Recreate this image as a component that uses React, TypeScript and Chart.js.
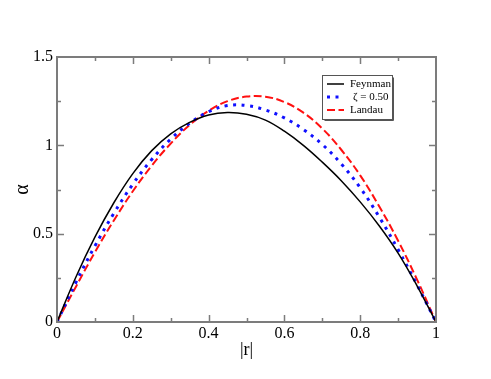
import React, { useEffect, useRef } from "react";
import { Chart, registerables } from "chart.js";

Chart.register(...registerables);

// |r| sample positions
const rValues = [0, 0.05, 0.1, 0.15, 0.2, 0.25, 0.3, 0.35, 0.4, 0.45, 0.5, 0.55, 0.6, 0.65, 0.7, 0.75, 0.8, 0.85, 0.9, 0.95, 1.0];
// alpha for each model
const feynman = [0, 0.255, 0.48, 0.675, 0.84, 0.97, 1.065, 1.13, 1.172, 1.186, 1.176, 1.143, 1.08, 1.0, 0.905, 0.8, 0.68, 0.545, 0.39, 0.205, 0];
const zeta050 = [0, 0.225, 0.43, 0.615, 0.78, 0.92, 1.035, 1.125, 1.19, 1.225, 1.225, 1.2, 1.155, 1.09, 1.005, 0.895, 0.76, 0.595, 0.41, 0.21, 0];
const landau = [0, 0.2, 0.395, 0.575, 0.74, 0.885, 1.01, 1.115, 1.195, 1.25, 1.276, 1.275, 1.245, 1.185, 1.095, 0.975, 0.83, 0.655, 0.46, 0.24, 0];

const seriesLabels = ["Feynman", "\u03b6 = 0.50", "Landau"];
const xTitle = "|r|";
const yTitle = "\u03b1";

const SERIF = "'Liberation Serif', 'Times New Roman', serif";
const FRAME = "#7c7c7c";

const frameTicksPlugin = {
  id: "frameTicks",
  afterDatasetsDraw(chart: any) {
    const { ctx, chartArea } = chart;
    const { left, right, top, bottom } = chartArea;
    const xs = chart.scales.x;
    const ys = chart.scales.y;
    ctx.save();
    ctx.strokeStyle = FRAME;
    ctx.lineWidth = 1.5;
    ctx.beginPath();
    xs.ticks.forEach((t: any) => {
      const p = Math.round(xs.getPixelForValue(t.value)) + 0.5;
      if (p <= left + 1 || p >= right - 1) return;
      const major = Math.round(t.value * 10) % 2 === 0;
      const len = major ? 7 : 4;
      ctx.moveTo(p, bottom);
      ctx.lineTo(p, bottom - len);
      ctx.moveTo(p, top);
      ctx.lineTo(p, top + len);
    });
    ys.ticks.forEach((t: any) => {
      const p = Math.round(ys.getPixelForValue(t.value)) + 0.5;
      if (p <= top + 1 || p >= bottom - 1) return;
      const major = Math.round(t.value * 4) % 2 === 0;
      const len = major ? 7 : 4;
      ctx.moveTo(left, p);
      ctx.lineTo(left + len, p);
      ctx.moveTo(right, p);
      ctx.lineTo(right - len, p);
    });
    ctx.stroke();
    ctx.lineWidth = 2;
    ctx.strokeRect(left, top, right - left, bottom - top);
    ctx.restore();
  },
};

const legendPlugin = {
  id: "boxLegend",
  afterDraw(chart: any) {
    const { ctx } = chart;
    const bx = 322.5, by = 75.5, bw = 70, bh = 44;
    ctx.save();
    ctx.fillStyle = "#ffffff";
    ctx.fillRect(bx, by, bw, bh);
    ctx.strokeStyle = "#555555";
    ctx.lineWidth = 1;
    ctx.strokeRect(bx, by, bw, bh);
    ctx.beginPath();
    ctx.moveTo(bx + bw + 1, by + 2);
    ctx.lineTo(bx + bw + 1, by + bh + 1);
    ctx.lineTo(bx + 2, by + bh + 1);
    ctx.stroke();
    ctx.font = "11px " + SERIF;
    ctx.textBaseline = "middle";
    ctx.fillStyle = "#000000";
    const rows = [84, 97, 110];
    chart.data.datasets.forEach((ds: any, i: number) => {
      const y = rows[i];
      ctx.save();
      ctx.strokeStyle = ds.borderColor;
      ctx.lineWidth = ds.borderWidth;
      ctx.setLineDash(ds.borderDash || []);
      ctx.beginPath();
      ctx.moveTo(327, y);
      ctx.lineTo(i === 1 ? 341 : 344, y);
      ctx.stroke();
      ctx.restore();
      ctx.fillText(ds.label, i === 1 ? 353 : 350, y);
    });
    ctx.restore();
  },
};

export default function App() {
  const canvasRef = useRef<HTMLCanvasElement | null>(null);

  useEffect(() => {
    document.body.style.margin = "0";
    const canvas = canvasRef.current;
    if (!canvas) return;
    const mk = (vals: number[]) => rValues.map((x, i) => ({ x, y: vals[i] }));
    const chart = new Chart(canvas, {
      type: "line",
      data: {
        datasets: [
          {
            label: seriesLabels[0],
            data: mk(feynman),
            borderColor: "#000000",
            borderWidth: 1.5,
            pointRadius: 0,
            tension: 0.4,
            fill: false,
          },
          {
            label: seriesLabels[1],
            data: mk(zeta050),
            borderColor: "#1010ff",
            borderWidth: 3,
            borderDash: [3, 5.5],
            pointRadius: 0,
            tension: 0.4,
            fill: false,
          },
          {
            label: seriesLabels[2],
            data: mk(landau),
            borderColor: "#ff1010",
            borderWidth: 2,
            borderDash: [8, 3.5],
            pointRadius: 0,
            tension: 0.4,
            fill: false,
          },
        ],
      },
      options: {
        animation: false,
        responsive: true,
        maintainAspectRatio: false,
        layout: { padding: { top: 57, right: 55, left: 0, bottom: 0 } },
        plugins: { legend: { display: false }, tooltip: { enabled: false } },
        scales: {
          x: {
            type: "linear",
            min: 0,
            max: 1,
            grid: { display: false, drawTicks: false },
            border: { display: false },
            ticks: {
              stepSize: 0.1,
              autoSkip: false,
              maxRotation: 0,
              padding: 2,
              color: "#000000",
              font: { family: SERIF, size: 16 },
              callback: (v: any) => {
                const n = Number(v);
                return Math.round(n * 10) % 2 === 0 ? String(+n.toFixed(1)) : "";
              },
            },
            title: {
              display: true,
              text: xTitle,
              color: "#000000",
              font: { family: SERIF, size: 18 },
              padding: { top: 0, bottom: 18 },
            },
            afterFit: (s: any) => {
              s.height = 57;
            },
          },
          y: {
            type: "linear",
            min: 0,
            max: 1.5,
            grid: { display: false, drawTicks: false },
            border: { display: false },
            ticks: {
              stepSize: 0.25,
              autoSkip: false,
              padding: 4,
              color: "#000000",
              font: { family: SERIF, size: 16 },
              callback: (v: any) => {
                const n = Number(v);
                return Math.round(n * 4) % 2 === 0 ? String(+n.toFixed(2)) : "";
              },
            },
            title: {
              display: true,
              text: yTitle,
              color: "#000000",
              font: { family: SERIF, size: 20 },
              padding: { top: 11, bottom: 0 },
            },
            afterFit: (s: any) => {
              s.width = 57;
            },
          },
        },
      },
      plugins: [frameTicksPlugin, legendPlugin],
    } as any);
    return () => chart.destroy();
  }, []);

  return (
    <div style={{ width: 491, height: 379, position: "relative" }}>
      <canvas ref={canvasRef} />
    </div>
  );
}
